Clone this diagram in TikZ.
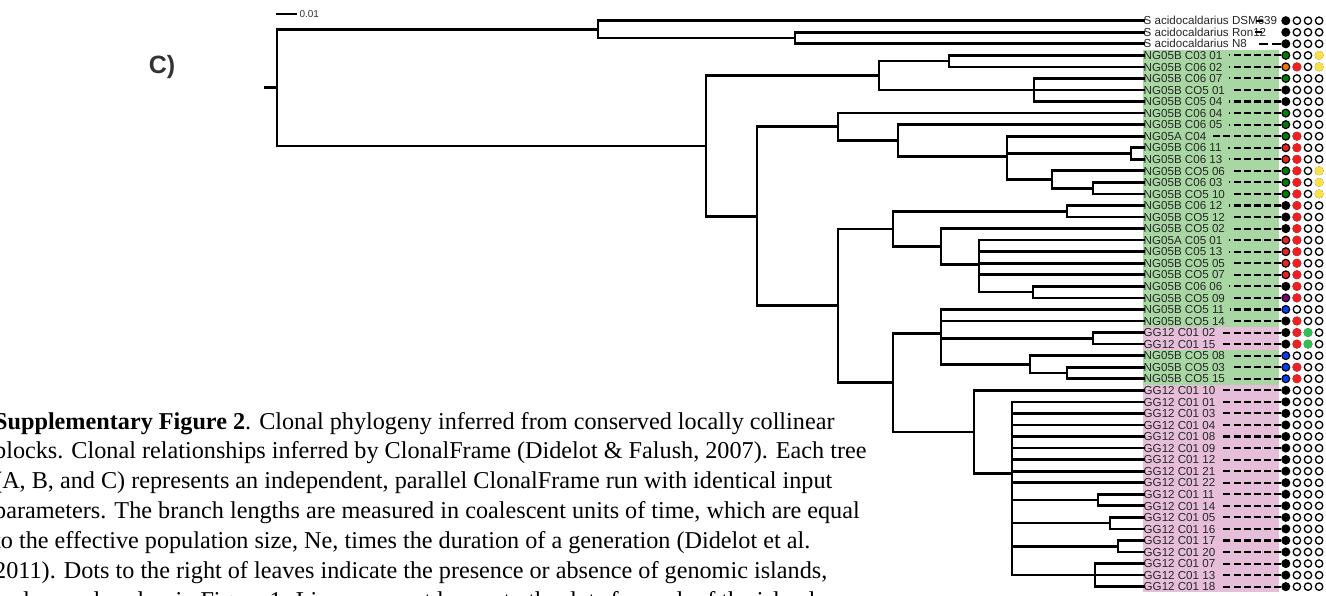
\documentclass[tikz,border=0pt]{standalone}
\usepackage{fontspec}
\newfontfamily\sansfam{Liberation Sans}
\newfontfamily\capfont{Liberation Serif}
\definecolor{greenbg}{RGB}{169,215,164}
\definecolor{pinkbg}{RGB}{230,190,218}
\definecolor{dotgreen}{RGB}{0,128,0}
\definecolor{dotorange}{RGB}{240,120,0}
\definecolor{dotred}{RGB}{237,32,36}
\definecolor{dotyellow}{RGB}{250,225,70}
\definecolor{dotpurple}{RGB}{128,0,128}
\definecolor{dotblue}{RGB}{0,64,255}
\definecolor{dotlime}{RGB}{50,190,80}
\begin{document}
\begin{tikzpicture}[x=1pt,y=-1pt,
  branch/.style={line width=2.7pt, line cap=rect},
  leaf/.style={anchor=west, inner sep=0pt, text height=8.4pt, text depth=0pt, text=black!85, font=\sansfam\fontsize{11.6}{12}\selectfont},
  leader/.style={line width=2.1pt, dash pattern=on 7pt off 3.2pt, shorten >=6pt},
  spot/.style={circle, draw=black, line width=1.2pt, minimum size=7.8pt, inner sep=0pt},
  ring/.style={draw=black, line width=1.3pt, fill=white},
  capline/.style={anchor=base west, inner sep=0pt, font=\capfont\fontsize{24.2}{30}\selectfont}]
\useasboundingbox (0,0) rectangle (1326,596);
\fill[white] (0,0) rectangle (1326,596);
\clip (0,0) rectangle (1326,596);

% caption
\node[capline] (cap1) at (-6,429.0) {\textbf{Supplementary Figure 2}. Clonal phylogeny inferred from conserved locally collinear};
\node[capline] (cap2) at (-6,458.9) {blocks. Clonal relationships inferred by ClonalFrame (Didelot \& Falush, 2007). Each tree};
\node[capline] (cap3) at (-6,488.8) {(A, B, and C) represents an independent, parallel ClonalFrame run with identical input};
\node[capline] (cap4) at (-6,518.7) {parameters. The branch lengths are measured in coalescent units of time, which are equal};
\node[capline] (cap5) at (-6,548.6) {to the effective population size, Ne, times the duration of a generation (Didelot et al.};
\node[capline] (cap6) at (-6,578.5) {2011). Dots to the right of leaves indicate the presence or absence of genomic islands,};
\node[capline] (cap7) at (-6,608.4) {and are colored as in Figure 1. Lines connect leaves to the dots for each of the islands};

% panel letter and scale
\node[font=\sansfam\bfseries\fontsize{25}{25}\selectfont, text=black!80] (panel) at (162,67) {C)};
\coordinate (sb0) at (276,14);
\coordinate (sb1) at (297,14);
\draw[line width=2pt] (sb0) -- (sb1) node[anchor=west, inner sep=1.5pt, text=black!80, font=\sansfam\fontsize{10}{10}\selectfont] {0.01};

% host bands
\fill[greenbg] (1143,49.58) rectangle (1279,326.78);
\fill[pinkbg] (1143,326.78) rectangle (1279,349.88);
\fill[greenbg] (1143,349.88) rectangle (1279,384.53);
\fill[pinkbg] (1143,384.53) rectangle (1279,592.43);

% leaves and island dots
\foreach \i/\lbl/\ca/\cb/\cc/\cd in {
  1/{S acidocaldarius DSM639}/black/none/none/none,
  2/{S acidocaldarius Ron12}/black/none/none/none,
  3/{S acidocaldarius N8}/black/none/none/none,
  4/{NG05B C03 01}/dotgreen/none/none/dotyellow,
  5/{NG05B C06 02}/dotorange/dotred/none/dotyellow,
  6/{NG05B C06 07}/dotgreen/none/none/none,
  7/{NG05B CO5 01}/black/none/none/none,
  8/{NG05B C05 04}/black/none/none/none,
  9/{NG05B C06 04}/dotgreen/none/none/none,
  10/{NG05B C06 05}/dotgreen/none/none/none,
  11/{NG05A C04}/dotgreen/dotred/none/none,
  12/{NG05B C06 11}/dotred/dotred/none/none,
  13/{NG05B C06 13}/dotred/dotred/none/none,
  14/{NG05B CO5 06}/dotgreen/dotred/none/dotyellow,
  15/{NG05B C06 03}/dotgreen/dotred/none/dotyellow,
  16/{NG05B CO5 10}/dotgreen/dotred/none/dotyellow,
  17/{NG05B C06 12}/black/dotred/none/none,
  18/{NG05B CO5 12}/black/dotred/none/none,
  19/{NG05B CO5 02}/black/dotred/none/none,
  20/{NG05A C05 01}/dotred/dotred/none/none,
  21/{NG05B C05 13}/dotred/dotred/none/none,
  22/{NG05B CO5 05}/dotred/dotred/none/none,
  23/{NG05B CO5 07}/dotred/dotred/none/none,
  24/{NG05B C06 06}/black/dotred/none/none,
  25/{NG05B CO5 09}/dotpurple/dotred/none/none,
  26/{NG05B CO5 11}/dotblue/none/none/none,
  27/{NG05B CO5 14}/black/dotred/none/none,
  28/{GG12 C01 02}/black/dotred/dotlime/none,
  29/{GG12 C01 15}/black/dotred/dotlime/none,
  30/{NG05B CO5 08}/dotblue/none/none/none,
  31/{NG05B CO5 03}/dotblue/dotred/none/none,
  32/{NG05B CO5 15}/dotblue/dotred/none/none,
  33/{GG12 C01 10}/black/none/none/none,
  34/{GG12 C01 01}/black/none/none/none,
  35/{GG12 C01 03}/black/none/none/none,
  36/{GG12 C01 04}/black/none/none/none,
  37/{GG12 C01 08}/black/none/none/none,
  38/{GG12 C01 09}/black/none/none/none,
  39/{GG12 C01 12}/black/none/none/none,
  40/{GG12 C01 21}/black/none/none/none,
  41/{GG12 C01 22}/black/none/none/none,
  42/{GG12 C01 11}/black/none/none/none,
  43/{GG12 C01 14}/black/none/none/none,
  44/{GG12 C01 05}/black/none/none/none,
  45/{GG12 C01 16}/black/none/none/none,
  46/{GG12 C01 17}/black/none/none/none,
  47/{GG12 C01 20}/black/none/none/none,
  48/{GG12 C01 07}/black/none/none/none,
  49/{GG12 C01 13}/black/none/none/none,
  50/{GG12 C01 18}/black/none/none/none}{
  \pgfmathsetmacro\yy{20.7+(\i-1)*11.55}
  \node[leaf] (l\i) at (1143.5,\yy) {\lbl};
  \node[spot, fill=\ca] (k\i) at (1285.8,\yy) {};
  \foreach \xx/\cv in {1296.9/\cb,1308.0/\cc,1319.1/\cd}{
    \draw[ring] (\xx,\yy) circle (3.7pt);
    \path[fill=\cv] (\xx,\yy) circle (4.5pt);
  }
  \ifnum\i>3 \draw[leader] (k\i) -- (l\i); \fi
}
\coordinate (cut1) at (1256,20.7);
\coordinate (cut2) at (1255,32.25);
\coordinate (cut3) at (1256,43.8);
\draw[line width=2.1pt] (cut1) -- +(7,0);
\draw[line width=2.1pt] (cut2) -- +(7,0);
\draw[leader, shorten >=0pt, dash pattern=on 9pt off 4pt] (k3) -- (cut3);

% tree
\coordinate (r0) at (265.6,87.65);
\coordinate (r) at (277,87.65);
\coordinate (t1) at (598,29.36);
\coordinate (t2) at (795,38.03);
\coordinate (k0) at (706,145.93);
\coordinate (a0) at (879,75.56);
\coordinate (a1) at (949,61.13);
\coordinate (a2) at (1034,90.00);
\coordinate (m0) at (757,216.29);
\coordinate (c9) at (838,126.82);
\coordinate (c10) at (898,140.53);
\coordinate (c11) at (1007,156.41);
\coordinate (c12) at (1131,153.53);
\coordinate (c14) at (1052,179.51);
\coordinate (c15) at (1093,188.18);
\coordinate (b0) at (838,305.75);
\coordinate (d0) at (893,228.89);
\coordinate (d17) at (1067,211.28);
\coordinate (d19) at (941,246.50);
\coordinate (d20) at (979,264.41);
\coordinate (d24) at (1033,292.13);
\coordinate (e0) at (893,382.60);
\coordinate (e26) at (941,333.27);
\coordinate (e28) at (1093,338.33);
\coordinate (e30) at (1030,364.31);
\coordinate (e31) at (1067,372.98);
\coordinate (f33) at (974,431.93);
\coordinate (f34) at (1012,473.56);
\coordinate (f42) at (1098,500.03);
\coordinate (f44) at (1110,523.13);
\coordinate (f46) at (1118,546.23);
\coordinate (f48) at (1095,575.10);

\draw[branch] (r0) -- (r);
\foreach \p/\q in {r/t1, r/k0, t1/l1.west, t1/t2, t2/l2.west, t2/l3.west,
  k0/a0, k0/m0, a0/a1, a0/a2, a1/l4.west, a1/l5.west, a2/l6.west, a2/l7.west, a2/l8.west,
  m0/c9, m0/b0, c9/l9.west, c9/c10, c10/l10.west, c10/c11,
  c11/l11.west, c11/c12, c11/c14, c12/l12.west, c12/l13.west,
  c14/l14.west, c14/c15, c15/l15.west, c15/l16.west,
  b0/d0, b0/e0, d0/d17, d0/d19, d17/l17.west, d17/l18.west, d19/l19.west, d19/d20,
  d20/l20.west, d20/l21.west, d20/l22.west, d20/l23.west, d20/d24, d24/l24.west, d24/l25.west,
  e0/e26, e0/f33, e26/l26.west, e26/l27.west, e26/e28, e26/e30,
  e28/l28.west, e28/l29.west, e30/l30.west, e30/e31, e31/l31.west, e31/l32.west,
  f33/l33.west, f33/f34,
  f34/l34.west, f34/l35.west, f34/l36.west, f34/l37.west, f34/l38.west, f34/l39.west,
  f34/l40.west, f34/l41.west, f34/f42, f34/f44, f34/f46, f34/f48,
  f42/l42.west, f42/l43.west, f44/l44.west, f44/l45.west, f46/l46.west, f46/l47.west,
  f48/l48.west, f48/l49.west, f48/l50.west}
  \draw[branch] (\p) |- (\q);
\end{tikzpicture}
\end{document}
